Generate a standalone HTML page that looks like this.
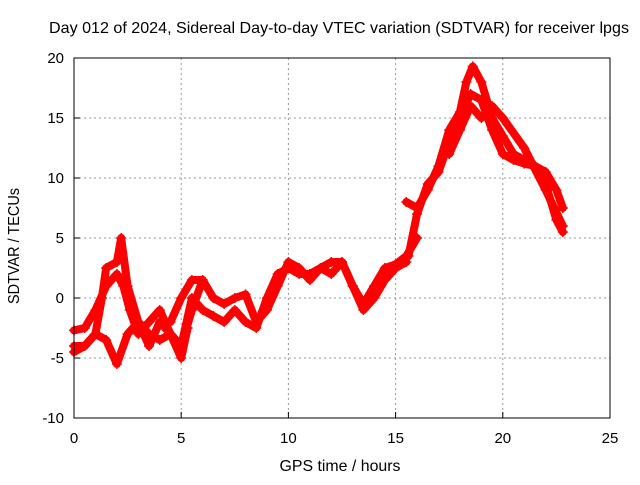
<!DOCTYPE html>
<html><head><meta charset="utf-8"><style>
body{margin:0;background:#fff;}
svg text{font-family:"Liberation Sans",sans-serif;font-size:15px;fill:#000;}
</style></head><body>
<svg id="chart" width="640" height="480" viewBox="0 0 640 480">
<rect width="640" height="480" fill="#fff"/>
<text x="339" y="33" text-anchor="middle" textLength="580" lengthAdjust="spacingAndGlyphs" style="font-size:16px">Day 012 of 2024, Sidereal Day-to-day VTEC variation (SDTVAR) for receiver lpgs</text>
<g id="grid"></g>
<g id="ticks"></g>
<g id="series"></g>
<rect x="74" y="58" width="536" height="360" fill="none" stroke="#000" stroke-width="1"/>
<text x="340" y="471" text-anchor="middle" textLength="121" lengthAdjust="spacingAndGlyphs" style="font-size:16px">GPS time / hours</text>
<text transform="translate(19,246) rotate(-90)" text-anchor="middle" textLength="116" lengthAdjust="spacingAndGlyphs" style="font-size:16px">SDTVAR / TECUs</text>
</svg>
<script>
const xTicks=[0,5,10,15,20,25];
const yTicks=[-10,-5,0,5,10,15,20];
const t1=[0,0.5,1,1.5,2,2.3,2.6,3,3.5,4,4.5,5,5.5,6];
const v1=[-2.7,-2.5,-1,1,2,1,-1,-3,-2,-1,-3,-4,-1,1.5];
const t2=[0,0.5,1,1.3,1.5,2,2.2,2.5,3,3.5,4,4.5,5,5.3];
const v2=[-4,-4,-3,0,2.5,3,5,1,-2,-4,-2,-3,-5,-2.5];
const t3=[0,0.5,1,1.5,2,2.5,3,3.5,4,4.5,5,5.5,6,6.5,7,7.5,8,8.5,9,9.5,10,10.5,11,11.5,12,12.5,13,13.5,14,14.5,15,15.5];
const v3=[-4.5,-4,-3,-3.5,-5.5,-3,-2,-3,-3.5,-3,-4,0,-1,-1.5,-2,-1,-2,-2.5,0,2,2.5,2,2,2.5,3,3,1,-1,0,1.5,2.5,3];
const t4=[4.5,5,5.5,6,6.5,7,7.5,8,8.5,9,9.5,10,10.5,11,11.5,12,12.5,13,13.5,14,14.5,15,15.5,16];
const v4=[-2,0,1.5,1.5,0,-0.5,0,0.3,-2,-1,1,3,2.5,1.5,2.5,2,3,1,-0.5,1,2.5,2.8,3.5,5];
const t5=[15.5,16,16.5,17,17.5,18,18.3,18.6,19,19.5,20,20.5,21,21.5,22,22.5,22.8];
const v5=[8,7.5,9,11,14,15.5,18,19.3,18,15,13.5,12,11.5,11,10.5,9,7.5];
const t6=[15.6,16,16.5,17,17.5,18,18.5,19,19.5,20,20.5,21,21.5,22,22.5,22.8];
const v6=[3.5,7,9.5,10.5,13,15,17,16.5,14,12,11.5,11.2,11,9.5,6.5,5.5];
const t7=[17.5,18,18.5,19,19.5,20,21,22,22.8];
const v7=[12,14,16,15,16,15,12.5,9,6];
const seriesT=[t1,t2,t3,t4,t5,t6,t7];
const seriesV=[v1,v2,v3,v4,v5,v6,v7];
const NS="http://www.w3.org/2000/svg";
const X=t=>74+(t-0)*(536/25);
const Y=v=>418-(v+10)*(360/30);
const grid=document.getElementById('grid'),ticks=document.getElementById('ticks'),ser=document.getElementById('series');
function mk(tag,attrs,parent){const e=document.createElementNS(NS,tag);for(const k in attrs)e.setAttribute(k,attrs[k]);parent.appendChild(e);return e;}
xTicks.forEach(t=>{
  if(t>0&&t<25){const g=mk('line',{x1:X(t),x2:X(t),y1:58,y2:418,stroke:'#999','stroke-dasharray':'2,3'},grid);
  
  }
  const l=mk('text',{x:X(t),y:443,'text-anchor':'middle'},ticks);l.textContent=t;
  
  
  mk('line',{x1:X(t),x2:X(t),y1:418,y2:412,stroke:'#000'},ticks);
});
yTicks.forEach(v=>{
  if(v>-10&&v<20){const g=mk('line',{x1:74,x2:610,y1:Y(v),y2:Y(v),stroke:'#999','stroke-dasharray':'2,3'},grid);
  
  }
  const l=mk('text',{x:64,y:Y(v)+5,'text-anchor':'end'},ticks);l.textContent=v;
  
  
  mk('line',{x1:74,x2:80,y1:Y(v),y2:Y(v),stroke:'#000'},ticks);
});
seriesT.forEach((ts,i)=>{
  const vs=seriesV[i];
  const pts=ts.map((t,j)=>X(t)+','+Y(vs[j])).join(' ');
  const p=mk('polyline',{points:pts,fill:'none',stroke:'#f00','stroke-width':8,'stroke-linejoin':'round','stroke-linecap':'round'},ser);
  
  
  ts.forEach((t,j)=>{
    const x=X(t),y=Y(vs[j]);
    const m=mk('path',{d:`M${x-5},${y}H${x+5}M${x},${y-5}V${y+5}`,stroke:'#f00','stroke-width':1.5},ser);
    
    
  });
});
</script>
</body></html>
